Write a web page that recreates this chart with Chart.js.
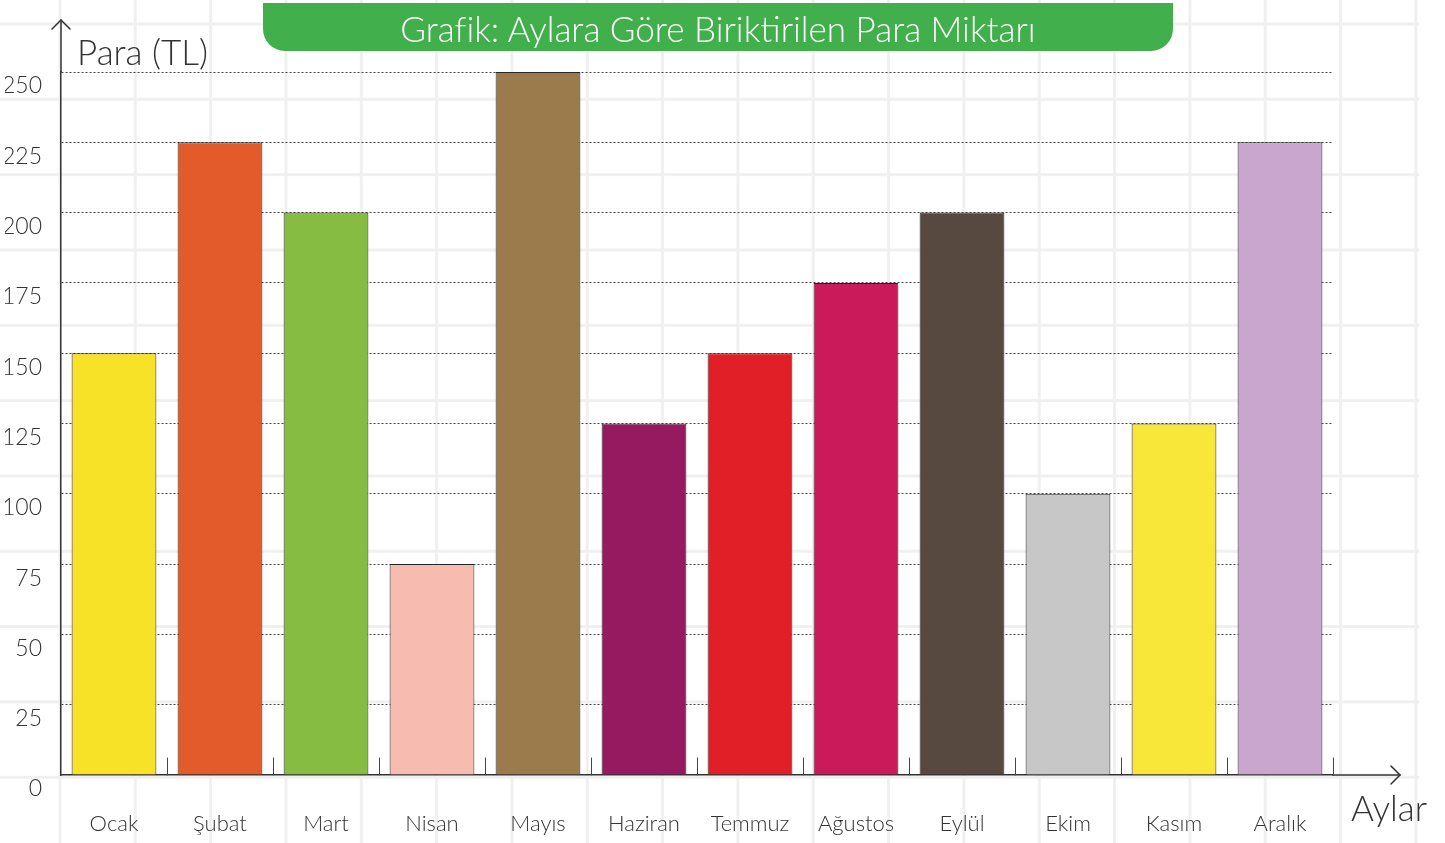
<!DOCTYPE html>
<html lang="tr">
<head>
<meta charset="utf-8">
<script src="https://cdn.jsdelivr.net/npm/chart.js@4.4.1/dist/chart.umd.min.js"></script>
<style>
  html, body { margin: 0; padding: 0; width: 1445px; height: 843px; overflow: hidden; background: #fff; font-family: 'Lato', 'DejaVu Sans', sans-serif; }
  #bg { position: absolute; left: 0; top: 0; width: 1419px; height: 843px;
        background-image: linear-gradient(to right, #f0f0f0 3px, transparent 3px), linear-gradient(to bottom, #f0f0f0 3px, transparent 3px);
        background-size: 75.33px 75.33px; background-position: 58.5px 22.5px; }
  #wrap { position: absolute; left: 0; top: 0; width: 1445px; height: 843px; }
  #banner { position: absolute; left: 263px; top: 3px; width: 910px; height: 48px; background: #41AF4B;
            border-radius: 0 0 22px 22px; color: #fff; font-size: 35px; font-weight: 300; text-align: center; line-height: 50px; }
  .lbl { position: absolute; color: #333; font-weight: 300; white-space: nowrap; }
</style>
</head>
<body>
<div id="bg"></div>
<div id="wrap"><canvas id="c" width="1445" height="843"></canvas></div>
<div id="banner">Grafik: Aylara Göre Biriktirilen Para Miktarı</div>
<div class="lbl" style="left:77px; top:30px; font-size:35px;">Para (TL)</div>
<div class="lbl" style="left:1351px; top:786px; font-size:35px;">Aylar</div>
<script>
const months = ['Ocak','Şubat','Mart','Nisan','Mayıs','Haziran','Temmuz','Ağustos','Eylül','Ekim','Kasım','Aralık'];
const savings = [150, 225, 200, 75, 250, 125, 150, 175, 200, 100, 125, 225];
const barColors = ['#F7E227','#E35A2B','#87BC42','#F8BBB0','#9B7B4B','#951A60','#E01F26','#CB1A5A','#574840','#C6C7C6','#F8E638','#C9A6CD'];
const yTicks = [0, 25, 50, 75, 100, 125, 150, 175, 200, 225, 250];

const axisDecor = {
  id: 'axisDecor',
  afterDraw(chart) {
    const ctx = chart.ctx, x = chart.scales.x;
    const left = chart.chartArea.left, bottom = chart.chartArea.bottom, top = chart.chartArea.top, right = chart.chartArea.right;
    ctx.save();
    ctx.strokeStyle = '#333'; ctx.lineWidth = 1.5; ctx.lineCap = 'round';
    ctx.beginPath(); ctx.moveTo(left, top); ctx.lineTo(left, 20); ctx.stroke();
    ctx.beginPath(); ctx.moveTo(left - 9, 29); ctx.lineTo(left, 20); ctx.lineTo(left + 9, 29); ctx.stroke();
    ctx.beginPath(); ctx.moveTo(right, bottom); ctx.lineTo(1400, bottom); ctx.stroke();
    ctx.beginPath(); ctx.moveTo(1391, bottom - 9); ctx.lineTo(1400, bottom); ctx.lineTo(1391, bottom + 9); ctx.stroke();
    ctx.lineWidth = 1; ctx.strokeStyle = '#444';
    const step = x.getPixelForValue(1) - x.getPixelForValue(0);
    for (let i = 0; i < months.length; i++) {
      const px = Math.round(x.getPixelForValue(i) + step / 2) + 0.5;
      ctx.beginPath(); ctx.moveTo(px, bottom); ctx.lineTo(px, bottom - 17); ctx.stroke();
    }
    ctx.restore();
  }
};

new Chart(document.getElementById('c'), {
  type: 'bar',
  data: {
    labels: months,
    datasets: [{
      data: savings,
      backgroundColor: barColors,
      borderColor: '#262626',
      borderWidth: 1,
      barPercentage: 0.8,
      categoryPercentage: 1.0
    }]
  },
  options: {
    responsive: false,
    animation: false,
    layout: { padding: { left: 5, right: 112, top: 72, bottom: 0 } },
    plugins: { legend: { display: false }, tooltip: { enabled: false }, title: { display: false } },
    scales: {
      x: {
        grid: { display: false, drawTicks: false },
        border: { display: true, color: '#333', width: 1.5 },
        ticks: { color: '#333', font: { family: 'Lato', size: 22, weight: 300 }, padding: 36, maxRotation: 0 },
        afterFit(s) { s.height = 68; }
      },
      y: {
        min: 0, max: 250,
        afterBuildTicks(s) { s.ticks = yTicks.map(v => ({ value: v })); },
        grid: { color: ctx => ctx.tick && ctx.tick.value === 0 ? 'rgba(0,0,0,0)' : '#444', lineWidth: 1, drawTicks: false },
        border: { display: true, color: '#333', width: 1.5, dash: [2, 2] },
        ticks: { color: '#333', font: { family: 'Lato', size: 23, weight: 300 }, padding: 19, labelOffset: 14 },
        afterFit(s) { s.width = 56; }
      }
    }
  },
  plugins: [axisDecor]
});
</script>
</body>
</html>
